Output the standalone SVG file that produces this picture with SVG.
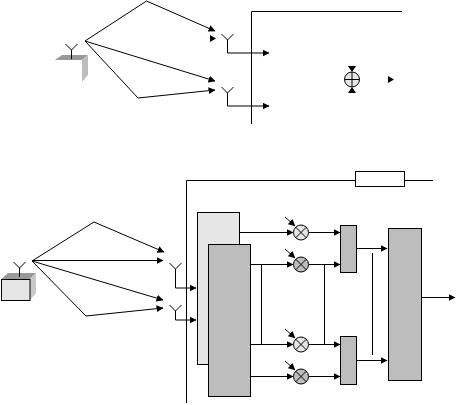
<svg xmlns="http://www.w3.org/2000/svg" width="456" height="405" viewBox="0 0 456 405">
<style>
.l{fill:none;stroke:#000;stroke-width:1}
.a{fill:none;stroke:#000;stroke-width:1;marker-end:url(#h)}
.b{stroke:#000;stroke-width:1}
.lg{fill:#e6e6e6}
.mg{fill:#bdbdbd}
</style>
<defs>
<marker id="h" markerUnits="userSpaceOnUse" markerWidth="7" markerHeight="7" refX="6.500" refY="3.500" orient="auto"><path d="M0 0L7 3.500L0 7Z" fill="#000"/></marker>
<g id="ant"><path class="l" d="M-6 -6L0 0L6 -6M0 0V5"/></g>
</defs>
<rect width="456" height="405" fill="#fff"/>
<g id="connectors">
<path class="a" d="M85 41L146.500 1L215 31"/>
<path class="a" d="M85 41L215 81"/>
<path class="a" d="M85 41L138 98L215 90"/>
<path class="a" d="M227.500 40V53H269"/>
<path class="a" d="M227.500 93V106H269"/>
<path class="l" d="M251.500 124V11.500H402"/>
<path class="a" d="M32 261L94 222L164 252"/>
<path class="a" d="M32 260.500H163"/>
<path class="a" d="M32 261L163 300"/>
<path class="a" d="M32 261L86 316L163 308"/>
<path class="a" d="M175.500 269V288H196"/>
<path class="a" d="M175.500 311V320H196"/>
<path class="l" d="M186.500 403V180.500H355M404.500 180.500H433"/>
<path class="a" d="M239 232.500H293"/>
<path class="a" d="M250 264.500H293"/>
<path class="a" d="M250 344.500H293"/>
<path class="a" d="M250 376.500H293"/>
<path class="a" d="M285 217L295 226"/>
<path class="a" d="M285 249L295 258"/>
<path class="a" d="M285 329L295 338"/>
<path class="a" d="M285 361L295 370"/>
<path class="a" d="M309 232.500H340"/>
<path class="a" d="M309 264.500H340"/>
<path class="a" d="M309 344.500H340"/>
<path class="a" d="M309 376.500H340"/>
<path class="l" d="M261.500 264.500V344.500M324.500 264.500V344.500M372.500 253V355"/>
<path class="a" d="M356 248.500H387"/>
<path class="a" d="M356 360.500H387"/>
<path class="a" d="M421 297.500H455"/>
<path d="M210 35L216 38.500L210 42Z" fill="#000"/>
<path d="M388 76L394 79.500L388 83Z" fill="#000"/>
</g>
<g id="base-top">
<path d="M55 60L62 55H88L82 60Z" fill="#999"/>
<path d="M82 60L88 55V75L82 82Z" fill="#bdbdbd"/>
<use href="#ant" x="71.500" y="50"/>
<path class="l" d="M71.500 50V59"/>
</g>
<g id="rx-top-1"><use href="#ant" x="227.500" y="40"/></g>
<g id="rx-top-2"><use href="#ant" x="227.500" y="93"/></g>
<g id="combiner">
<path d="M348 66H356L352 72Z M348 93H356L352 87Z" fill="#000"/>
<circle class="b lg" cx="352" cy="79.500" r="7.500"/>
<path class="l" d="M344.500 79.500H359.500M352 72V87"/>
</g>
<g id="base-bottom">
<path d="M1.500 279L8 273H36L30 279Z" fill="#999"/>
<path d="M30 279L36 273V293L30 300Z" fill="#c8c8c8"/>
<rect class="b lg" x="1.500" y="279.500" width="28.500" height="21"/>
<use href="#ant" x="19.500" y="268"/>
<path class="l" d="M19.500 268V277"/>
</g>
<g id="rx-bottom-1"><use href="#ant" x="175.500" y="269"/></g>
<g id="rx-bottom-2"><use href="#ant" x="175.500" y="311"/></g>
<g id="filter"><rect class="b" fill="#fff" x="355.500" y="171.500" width="49" height="15"/></g>
<g id="block-a"><rect class="b lg" x="197.500" y="212.500" width="42" height="152"/></g>
<g id="block-b"><rect class="b mg" x="208.500" y="244.500" width="42" height="152"/></g>
<g id="mixer-1"><circle class="b lg" cx="301" cy="232.500" r="7.500"/><path class="l" d="M295.700 227.200L306.300 237.800M306.300 227.200L295.700 237.800"/></g>
<g id="mixer-2"><circle class="b mg" cx="301" cy="264.500" r="7.500"/><path class="l" d="M295.700 259.200L306.300 269.800M306.300 259.200L295.700 269.800"/></g>
<g id="mixer-3"><circle class="b lg" cx="301" cy="344.500" r="7.500"/><path class="l" d="M295.700 339.200L306.300 349.800M306.300 339.200L295.700 349.800"/></g>
<g id="mixer-4"><circle class="b mg" cx="301" cy="376.500" r="7.500"/><path class="l" d="M295.700 371.200L306.300 381.800M306.300 371.200L295.700 381.800"/></g>
<g id="adder-1"><rect class="b mg" x="340.500" y="225.500" width="16" height="47"/></g>
<g id="adder-2"><rect class="b mg" x="340.500" y="336.500" width="16" height="48"/></g>
<g id="decoder"><rect class="b mg" x="388.500" y="228.500" width="33" height="152"/></g>
</svg>
